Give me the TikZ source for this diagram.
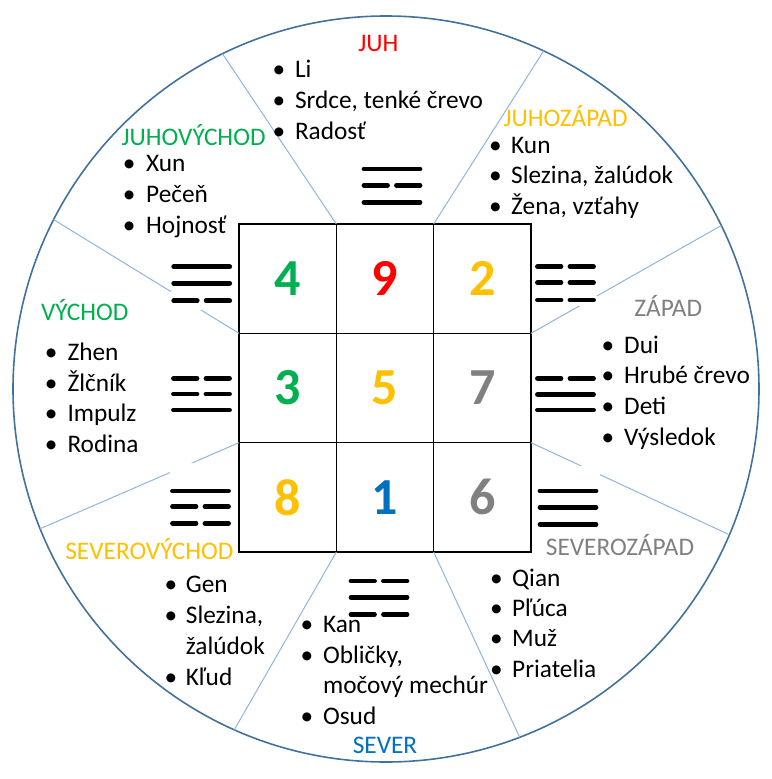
\documentclass[tikz,border=0pt]{standalone}
\usepackage{fontspec}
\setmainfont{Carlito}
\definecolor{cgreen}{HTML}{00B050}
\definecolor{cred}{HTML}{FF0000}
\definecolor{camber}{HTML}{FFC000}
\definecolor{cblue}{HTML}{0070C0}
\definecolor{cgray}{HTML}{808080}
\definecolor{rim}{HTML}{41719C}
\definecolor{spokecol}{HTML}{8FB4E0}
\tikzset{
  txtfont/.style={font=\fontsize{25.3}{30}\selectfont},
  itm/.style={txtfont, anchor=base west, inner sep=0pt},
  bul/.style={txtfont, anchor=base, inner sep=0pt},
  head/.style={txtfont, anchor=base, inner sep=0pt},
  cell/.style={draw=black, line width=1.2pt, minimum width=97.33pt, minimum height=109.33pt, inner sep=0pt, outer sep=0pt, font=\fontsize{52}{60}\selectfont\bfseries},
  tri/.style={line width=4.8pt, line cap=round, black},
  spk/.style={draw=spokecol, line width=1pt},
}
\newcommand\tline[3]{%
  \ifnum#3=1
    \draw[tri] (#1-28,#2) -- (#1+28,#2);
  \else
    \draw[tri] (#1-28,#2) -- (#1-4.5,#2);
    \draw[tri] (#1+4.5,#2) -- (#1+28,#2);
  \fi}
\newcommand\trig[7]{% cx, y1, y2, y3, p1, p2, p3
  \tline{#1}{#2}{#5}\tline{#1}{#3}{#6}\tline{#1}{#4}{#7}}
\newcommand\bitem[5]{% name, bullet x, text x, baseline, text
  \node[bul] (#1b) at (#2,#4) {•};
  \node[itm] (#1) at (#3,#4) {#5};}
\begin{document}
\begin{tikzpicture}[x=1pt,y=-1pt]
\useasboundingbox (0,0) rectangle (771,779);
% rim
\node[circle, draw=rim, line width=1.6pt, minimum size=746pt, inner sep=0pt, outer sep=0pt] (wheel) at (386,389) {};
% grid
\node[cell, text=cgreen] (c11) at (287.67,278.67) {4};
\node[cell, text=cred]   (c12) at (385,278.67) {9};
\node[cell, text=camber] (c13) at (482.33,278.67) {2};
\node[cell, text=cgreen] (c21) at (287.67,388) {3};
\node[cell, text=camber] (c22) at (385,388) {5};
\node[cell, text=cgray]  (c23) at (482.33,388) {7};
\node[cell, text=camber] (c31) at (287.67,497.33) {8};
\node[cell, text=cblue]  (c32) at (385,497.33) {1};
\node[cell, text=cgray]  (c33) at (482.33,497.33) {6};
% spokes
\draw[spk] (c12.north west) -- (wheel.116);
\draw[spk] (c12.north east) -- (wheel.65.5);
\draw[spk] (c23.north east) -- (wheel.26);
\draw[spk] (c23.south east) -- (wheel.-23.5);
\draw[spk] (c32.south east) -- (wheel.-69.5);
\draw[spk] (c32.south west) -- (wheel.246.5);
\draw[spk] (c21.south west) -- (wheel.202);
\draw[spk] (c21.north west) -- (wheel.153.5);
% white backgrounds of trigrams
\fill[white] (171,258) rectangle (233,310);
\fill[white] (535,258) rectangle (597,306);
\fill[white] (170,463) rectangle (231,532);
\fill[white] (537,466) rectangle (599.5,533);
% trigrams
\trig{392}{169}{185.3}{202.3}{1}{0}{1}
\trig{201.7}{266.7}{283.3}{300.7}{1}{1}{0}
\trig{201.5}{378.3}{394}{410}{0}{0}{1}
\trig{200.5}{491}{506.7}{523.3}{1}{0}{0}
\trig{379}{581}{597.3}{614.3}{0}{1}{0}
\trig{568}{491}{507.7}{524.3}{1}{1}{1}
\trig{565.5}{378.3}{394.3}{410}{0}{1}{1}
\trig{565.5}{266.7}{282.7}{300}{0}{0}{0}
% headings
\node[head, text=cred]   (hS)  at (378.4,51.2)  {JUH};
\node[head, text=cgreen] (hSE) at (193.6,145.6) {JUHOVÝCHOD};
\node[head, text=cgreen] (hE)  at (84.8,320)    {VÝCHOD};
\node[head, text=camber] (hNE) at (149.4,559.4) {SEVEROVÝCHOD};
\node[head, text=cblue]  (hN)  at (385,753.5)   {SEVER};
\node[head, text=cgray]  (hNW) at (620,555)     {SEVEROZÁPAD};
\node[head, text=cgray]  (hW)  at (668.3,316.6) {ZÁPAD};
\node[head, text=camber] (hSW) at (565.6,126.4) {JUHOZÁPAD};
% south
\bitem{s1}{279}{294.8}{77.8}{Li}
\bitem{s2}{279}{294.8}{108.7}{Srdce, tenké črevo}
\bitem{s3}{279}{294.8}{139.2}{Radosť}
% south-east
\bitem{se1}{129.2}{146}{171.6}{Xun}
\bitem{se2}{129.2}{146}{202.6}{Pečeň}
\bitem{se3}{129.2}{146}{233.6}{Hojnosť}
% east
\bitem{e1}{51.1}{67.3}{360.8}{Zhen}
\bitem{e2}{51.1}{67.3}{391.3}{Žlčník}
\bitem{e3}{51.1}{67.3}{421.8}{Impulz}
\bitem{e4}{51.1}{67.3}{452.7}{Rodina}
% north-east
\bitem{ne1}{171}{185.7}{592.8}{Gen}
\bitem{ne2}{171}{185.7}{623.7}{Slezina,}
\node[itm] (ne2c) at (185.7,654.2) {žalúdok};
\bitem{ne3}{171}{185.7}{685.2}{Kľud}
% north
\bitem{n1}{307}{322.9}{632}{Kan}
\bitem{n2}{307}{322.9}{663}{Obličky,}
\node[itm] (n2c) at (322.9,693.5) {močový mechúr};
\bitem{n3}{307}{322.9}{724.5}{Osud}
% north-west
\bitem{nw1}{496.3}{512}{586.4}{Qian}
\bitem{nw2}{496.3}{512}{616.4}{Pľúca}
\bitem{nw3}{496.3}{512}{646.8}{Muž}
\bitem{nw4}{496.3}{512}{677.8}{Priatelia}
% west
\bitem{w1}{607.9}{624}{353.5}{Dui}
\bitem{w2}{607.9}{624}{383.9}{Hrubé črevo}
\bitem{w3}{607.9}{624}{414.9}{Deti}
\bitem{w4}{607.9}{624}{445.3}{Výsledok}
% south-west
\bitem{sw1}{495.3}{511}{153}{Kun}
\bitem{sw2}{495.3}{511}{183.4}{Slezina, žalúdok}
\bitem{sw3}{495.3}{511}{214.4}{Žena, vzťahy}
\end{tikzpicture}
\end{document}
